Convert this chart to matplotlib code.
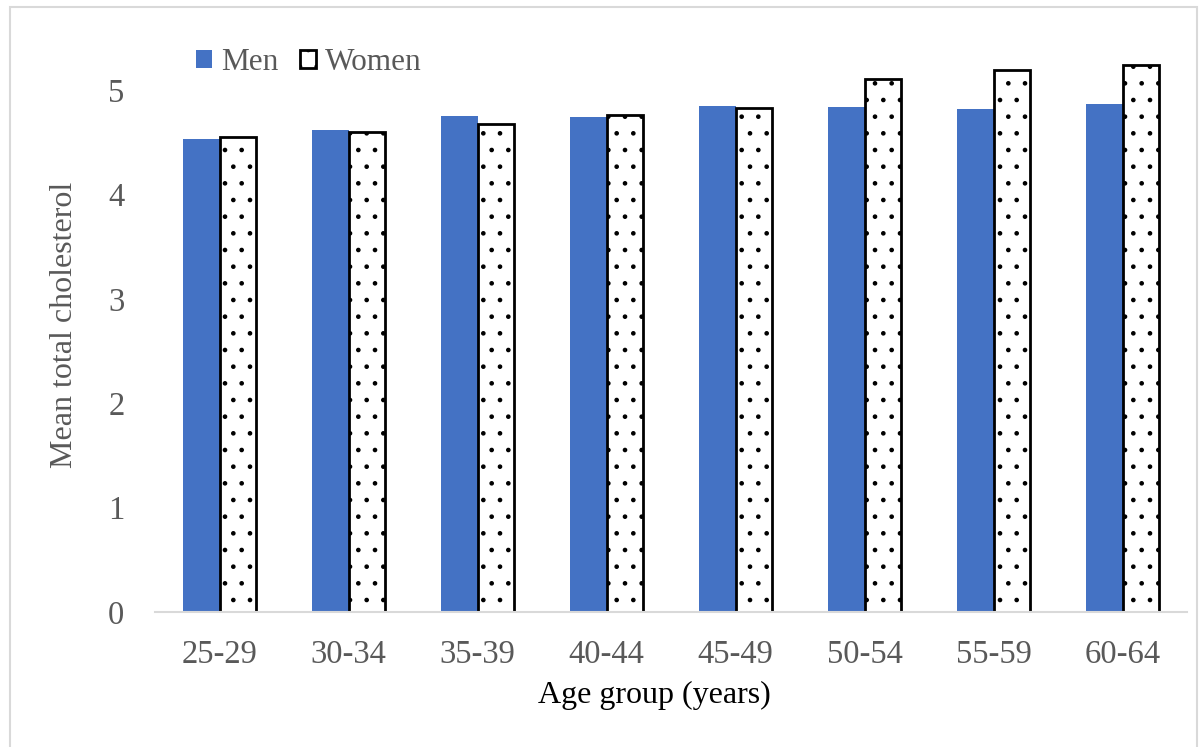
import matplotlib
matplotlib.use("Agg")
import matplotlib.pyplot as plt
import numpy as np
from matplotlib.patches import Rectangle, Patch

categories = ["25-29", "30-34", "35-39", "40-44", "45-49", "50-54", "55-59", "60-64"]
men = [4.53, 4.62, 4.75, 4.74, 4.85, 4.84, 4.82, 4.87]
women = [4.55, 4.60, 4.68, 4.76, 4.83, 5.11, 5.19, 5.24]
yticks = [0, 1, 2, 3, 4, 5]

plt.rcParams['font.family'] = ['Liberation Serif', 'DejaVu Serif']
plt.rcParams['hatch.linewidth'] = 0.9
plt.rcParams['hatch.color'] = 'black'

W, H = 1200, 747
fig = plt.figure(figsize=(12, 7.47), dpi=100)
ax = fig.add_axes([155 / W, 1 - 612 / H, (1187 - 155) / W, (612 - 38) / H])

x = np.arange(len(categories))
bw = 0.285
ax.bar(x - bw / 2, men, bw, color='#4472C4', label='Men', zorder=2)
ax.bar(x + bw / 2, women, bw, facecolor='white', edgecolor='black', linewidth=2,
       hatch='.', label='Women', zorder=2)

ax.set_xlim(-0.5, len(categories) - 0.5)
ax.set_ylim(0, 5.5)
ax.set_yticks(yticks)
ax.set_xticks(x)
ax.set_xticklabels(categories)
gray = '#595959'
ax.tick_params(axis='both', length=0, labelsize=23.5, colors=gray)
ax.tick_params(axis='x', pad=20)
ax.tick_params(axis='y', pad=22)
for s in ['top', 'right', 'left']:
    ax.spines[s].set_visible(False)
ax.spines['bottom'].set_color('#d9d9d9')
ax.spines['bottom'].set_linewidth(1.5)
ax.spines['bottom'].set_zorder(3)

ax.set_xlabel('Age group (years)', fontsize=23, color='black')
ax.xaxis.set_label_coords((654 - 155) / 1032, (612 - 681) / 574)
ax.set_ylabel('Mean total cholesterol', fontsize=23, color=gray)
ax.yaxis.set_label_coords((79 - 155) / 1032, 0.5)

handles = [Patch(facecolor='#4472C4', label='Men'),
           Patch(facecolor='white', edgecolor='black', linewidth=2, hatch='.', label='Women')]
leg = ax.legend(handles=handles, loc='upper left', bbox_to_anchor=(196 / W, 1 - 48 / H),
                bbox_transform=fig.transFigure, ncol=2, frameon=False, fontsize=22.5,
                handlelength=0.5, handleheight=0.5, handletextpad=0.3, columnspacing=0.7,
                borderaxespad=0, borderpad=0)
for t in leg.get_texts():
    t.set_color(gray)

fig.patches.append(Rectangle((10 / W, -0.01), (1197 - 10) / W, 1 - 7 / H + 0.01,
                             transform=fig.transFigure, fill=False,
                             edgecolor='#d9d9d9', linewidth=1.5))

fig.savefig('out.png', dpi=100)
